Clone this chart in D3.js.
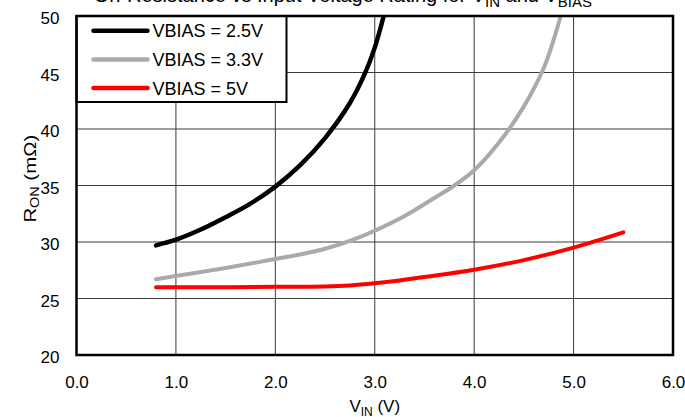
<!DOCTYPE html>
<html>
<head>
<meta charset="utf-8">
<script src="https://cdn.jsdelivr.net/npm/d3@7"></script>
<style>
  body { margin: 0; background: #fff; }
  text { font-family: "Liberation Sans", Arial, sans-serif; fill: #000; }
</style>
</head>
<body>
<div id="chart"></div>
<script>
'use strict';

// tick labels
const xTicks = [0, 1, 2, 3, 4, 5, 6];
const yTicks = [20, 25, 30, 35, 40, 45, 50];

// VBIAS = 2.5V
const vin25 = [0.8, 1.0, 1.25, 1.5, 1.75, 2.0, 2.25, 2.5, 2.75, 2.9, 3.0, 3.09];
const ron25 = [29.7, 30.2, 31.1, 32.2, 33.4, 34.9, 36.8, 39.2, 42.3, 44.9, 47.2, 50];

// VBIAS = 3.3V
const vin33 = [0.8, 1.0, 1.5, 2.0, 2.25, 2.5, 2.75, 3.0, 3.3, 3.6, 3.8, 4.0, 4.25, 4.5, 4.7, 4.8, 4.87];
const ron33 = [26.7, 27.0, 27.7, 28.5, 28.9, 29.4, 30.1, 31.0, 32.3, 33.9, 35.0, 36.35, 38.8, 42.0, 45.4, 47.9, 50];

// VBIAS = 5V
const vin5 = [0.8, 1.0, 1.5, 2.0, 2.5, 2.75, 3.0, 3.25, 3.5, 4.0, 4.5, 5.0, 5.5];
const ron5 = [26.0, 26.0, 26.0, 26.03, 26.07, 26.16, 26.35, 26.6, 26.9, 27.55, 28.4, 29.5, 30.85];

const seriesNames = ['VBIAS = 2.5V', 'VBIAS = 3.3V', 'VBIAS = 5V'];
const seriesColors = ['#000000', '#aaaaaa', '#ff0000'];

var margin = { top: 16, right: 12, bottom: 62, left: 76.5 };
const W = 685, H = 417;
const width = W - margin.left - margin.right;
const height = H - margin.top - margin.bottom;

const svg = d3.select('#chart').append('svg')
    .attr('width', W)
    .attr('height', H);

svg.append('rect').attr('width', W).attr('height', H).attr('fill', '#fff');

// title, cut off at the top edge like the source figure
const title = svg.append('text')
    .attr('x', 592)
    .attr('y', 2)
    .attr('text-anchor', 'end')
    .style('font-size', '20px');
title.append('tspan').text('On-Resistance vs Input Voltage Rating for V');
title.append('tspan').attr('dy', 5).style('font-size', '15px').text('IN');
title.append('tspan').attr('dy', -5).text(' and V');
title.append('tspan').attr('dy', 5).style('font-size', '15px').text('BIAS');

const g = svg.append('g')
    .attr('transform', 'translate(' + margin.left + ',' + margin.top + ')');

const x = d3.scaleLinear().domain([0, 6]).range([0, width]);
const y = d3.scaleLinear().domain([20, 50]).range([height, 0]);

// grid
g.append('g').selectAll('line')
    .data(xTicks.slice(1, -1))
    .join('line')
    .attr('x1', d => x(d)).attr('x2', d => x(d))
    .attr('y1', 0).attr('y2', height)
    .attr('stroke', '#3a3a3a').attr('stroke-width', 1);

g.append('g').selectAll('line')
    .data(yTicks.slice(1, -1))
    .join('line')
    .attr('x1', 0).attr('x2', width)
    .attr('y1', d => y(d)).attr('y2', d => y(d))
    .attr('stroke', '#3a3a3a').attr('stroke-width', 1);

// axes (labels only)
const xAxis = g.append('g')
    .attr('transform', 'translate(0,' + height + ')')
    .call(d3.axisBottom(x).tickValues(xTicks).tickFormat(d3.format('.1f')).tickSize(0).tickPadding(21));
const yAxis = g.append('g')
    .call(d3.axisLeft(y).tickValues(yTicks).tickSize(0).tickPadding(17));
[xAxis, yAxis].forEach(a => {
    a.select('.domain').remove();
    a.selectAll('text').style('font-size', '17px').style('font-family', '"Liberation Sans", Arial, sans-serif');
});
yAxis.selectAll('text').attr('dy', '0.45em');

// axis titles
const xt = svg.append('text')
    .attr('x', margin.left + x(3))
    .attr('y', 412)
    .attr('text-anchor', 'middle')
    .style('font-size', '17px');
xt.append('tspan').text('V');
xt.append('tspan').attr('dy', 4).style('font-size', '12px').text('IN');
xt.append('tspan').attr('dy', -4).text(' (V)');

// y title is drawn a bit wide in the source, so stretch it along its length
const yt = svg.append('text')
    .attr('transform', 'translate(36,' + (margin.top + y(35.6)) + ') rotate(-90) scale(1.2,1)')
    .attr('text-anchor', 'middle')
    .style('font-size', '17px');
yt.append('tspan').text('R');
yt.append('tspan').attr('dy', 3).style('font-size', '12px').text('ON');
yt.append('tspan').attr('dy', -3).text(' (m\u03A9)');

// curves
svg.append('clipPath').attr('id', 'plotClip')
    .append('rect').attr('width', width).attr('height', height);

const series = [
    { name: seriesNames[0], color: seriesColors[0], w: 4.5, pts: d3.zip(vin25, ron25) },
    { name: seriesNames[1], color: seriesColors[1], w: 4, pts: d3.zip(vin33, ron33) },
    { name: seriesNames[2], color: seriesColors[2], w: 4, pts: d3.zip(vin5, ron5) }
];

const line = d3.line()
    .x(d => x(d[0]))
    .y(d => y(d[1]))
    .curve(d3.curveCatmullRom.alpha(0.5));

g.append('g').attr('clip-path', 'url(#plotClip)')
    .selectAll('path')
    .data(series)
    .join('path')
    .attr('fill', 'none')
    .attr('stroke', d => d.color)
    .attr('stroke-width', d => d.w)
    .attr('stroke-linecap', 'round')
    .attr('stroke-linejoin', 'round')
    .attr('d', d => line(d.pts));

// legend
const legend = g.append('g');
legend.append('rect')
    .attr('x', 0).attr('y', 0)
    .attr('width', 210).attr('height', 86)
    .attr('fill', '#fff')
    .attr('stroke', '#000')
    .attr('stroke-width', 2);

const rows = legend.selectAll('g.row')
    .data(series)
    .join('g')
    .attr('class', 'row')
    .attr('transform', (d, i) => 'translate(0,' + (14.7 + i * 28.7) + ')');
rows.append('line')
    .attr('x1', 17).attr('x2', 71)
    .attr('stroke', d => d.color)
    .attr('stroke-width', 4.5)
    .attr('stroke-linecap', 'round');
rows.append('text')
    .attr('x', 76)
    .attr('y', 6.5)
    .style('font-size', '18px')
    .text(d => d.name);

// frame
g.append('rect')
    .attr('width', width).attr('height', height)
    .attr('fill', 'none')
    .attr('stroke', '#000')
    .attr('stroke-width', 2.5);
</script>
</body>
</html>
